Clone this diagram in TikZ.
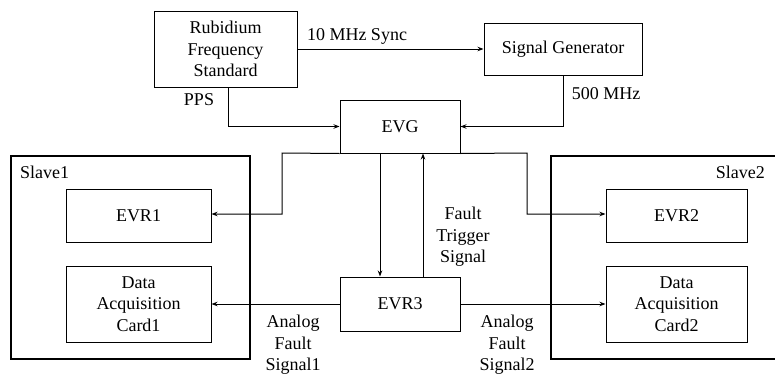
\documentclass[tikz,border=0pt]{standalone}
\usepackage{fontspec}
\setmainfont{Liberation Serif}
\usetikzlibrary{arrows.meta}
\begin{document}
\begin{tikzpicture}[x=1pt,y=-1pt,
  font=\fontsize{18}{21.5}\selectfont,
  box/.style={draw, line width=1pt, align=center, inner sep=0pt},
  slave/.style={draw, line width=1.8pt},
  arr/.style={line width=1pt, -{Stealth[length=6pt,width=4.5pt]}},
  ln/.style={line width=1pt},
  lbl/.style={align=center, inner sep=0pt}]
\useasboundingbox (0,0) rectangle (775,375);
\fill[white] (0,0) rectangle (775,375);
% slave frames
\draw[slave] (11,156) rectangle (250,359);
\draw[slave] (551,156) rectangle (790,359);
\node[lbl, anchor=west] (s1) at (20,172) {Slave1};
\node[lbl, anchor=east] (s2) at (765,172) {Slave2};
% boxes
\node[box, minimum width=143pt, minimum height=76pt] (rb) at (225.5,49) {Rubidium\\Frequency\\Standard};
\node[box, minimum width=158pt, minimum height=52pt] (sg) at (563,49) {Signal Generator};
\node[box, minimum width=120pt, minimum height=53pt] (evg) at (400,126.5) {EVG};
\node[box, minimum width=145pt, minimum height=53pt] (evr1) at (138.5,215.5) {EVR1};
\node[box, minimum width=145pt, minimum height=76pt] (daq1) at (138.5,304) {Data\\Acquisition\\Card1};
\node[box, minimum width=141pt, minimum height=53pt] (evr2) at (676.5,215.5) {EVR2};
\node[box, minimum width=141pt, minimum height=76pt] (daq2) at (676.5,304) {Data\\Acquisition\\Card2};
\node[box, minimum width=120pt, minimum height=54pt] (evr3) at (400,304) {EVR3};
% connectors
\draw[arr] (rb.east) -- (sg.west);
\draw[arr] ([xshift=2.5pt]rb.south) |- (evg.west);
\draw[arr] (sg.south) |- (evg.east);
\coordinate (jl) at (282,153);
\coordinate (jr) at (527,153);
\draw[arr] (evg.south west) -- (jl) |- ([yshift=1.5pt]evr1.east);
\draw[arr] (evg.south east) -- (jr) |- ([yshift=1.5pt]evr2.west);
\draw[arr] ([xshift=-20pt]evg.south) -- ([xshift=-20pt]evr3.north);
\draw[arr] ([xshift=23pt]evr3.north) -- ([xshift=23pt]evg.south);
\draw[arr] (evr3.west) -- (daq1.east);
\draw[arr] (evr3.east) -- (daq2.west);
% labels
\node[lbl] (l10) at (357,36) {10 MHz Sync};
\node[lbl] (lpps) at (199,100) {PPS};
\node[lbl] (l500) at (606,94) {500 MHz};
\node[lbl] (lft) at (463,237) {Fault\\Trigger\\Signal};
\node[lbl] (la1) at (293,345) {Analog\\Fault\\Signal1};
\node[lbl] (la2) at (507,345) {Analog\\Fault\\Signal2};
\end{tikzpicture}
\end{document}
